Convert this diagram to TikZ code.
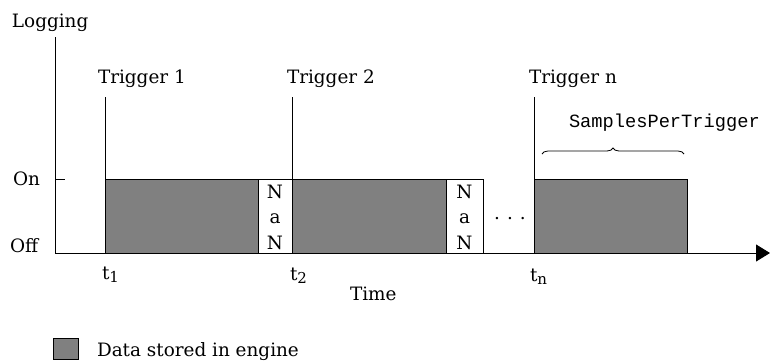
\documentclass[tikz,border=0pt]{standalone}
\usepackage{fontspec}
\setmainfont{DejaVu Serif}
\newfontfamily\spmono{Liberation Mono}
\usetikzlibrary{arrows.meta,decorations.pathreplacing}
\definecolor{datagray}{RGB}{128,128,128}
\newcommand{\tsubs}[1]{t\raisebox{-3pt}{\fontsize{15}{15}\selectfont #1}}
\begin{document}
\begin{tikzpicture}[x=1pt,y=-1pt, line width=1pt,
  lbl/.style={font=\fontsize{18.4}{22}\selectfont, inner sep=0pt, outer sep=0pt},
  mono/.style={font=\spmono\fontsize{18.7}{22}\selectfont, inner sep=0pt, outer sep=0pt},
  databox/.style={draw=black, fill=datagray, inner sep=0pt, outer sep=0pt, anchor=north west},
  nanbox/.style={draw=black, fill=white, inner sep=0pt, outer sep=0pt, anchor=north west}]
\useasboundingbox (0,0) rectangle (771,360);

% axes
\coordinate (ytop) at (55,37);
\coordinate (O) at (55,253);
\coordinate (xend) at (770,253);
\coordinate (on) at (55,179);
\coordinate (ontick) at (65,179);

% data and NaN boxes
\node[databox, minimum width=153pt, minimum height=74pt] (d1) at (105,179) {};
\node[nanbox, minimum width=34pt, minimum height=74pt] (n1) at (258,179) {};
\node[databox, minimum width=154pt, minimum height=74pt] (d2) at (292,179) {};
\node[nanbox, minimum width=37pt, minimum height=74pt] (n2) at (446,179) {};
\node[databox, minimum width=153pt, minimum height=74pt] (d3) at (534,179) {};

\draw (on) -- (ontick);
\draw[-{Triangle[length=14pt,width=17pt]}] (ytop) -- (O) -- (xend);

% trigger lines
\coordinate (tr1) at (105,97);
\coordinate (tr2) at (292,97);
\coordinate (trn) at (534,97);
\draw (tr1) -- (d1.south west);
\draw (tr2) -- (d2.south west);
\draw (trn) -- (d3.south west);

% NaN texts
\node[lbl, anchor=base] (n1a) at (275,198) {N};
\node[lbl, anchor=base] (n1b) at (275,223) {a};
\node[lbl, anchor=base] (n1c) at (275,249) {N};
\node[lbl, anchor=base] (n2a) at (464.5,198) {N};
\node[lbl, anchor=base] (n2b) at (464.5,223) {a};
\node[lbl, anchor=base] (n2c) at (464.5,249) {N};

% dots
\node[lbl, anchor=base] (dots) at (510,219) {.\hspace{7pt}.\hspace{7pt}.};

% brace
\coordinate (bl) at (542,154);
\coordinate (br) at (684,154);
\draw[line width=0.8pt, decorate, decoration={brace, amplitude=6pt}] (bl) -- (br);
\node[mono, anchor=base west] (spt) at (569,127) {SamplesPerTrigger};

% labels
\node[lbl, anchor=base west] (logging) at (12,27) {Logging};
\node[lbl, anchor=base west] (onl) at (13,185) {On};
\node[lbl, anchor=base west] (offl) at (10,252) {Off};
\node[lbl, anchor=base west] (T1) at (98,83) {Trigger 1};
\node[lbl, anchor=base west] (T2) at (287,83) {Trigger 2};
\node[lbl, anchor=base west] (Tn) at (529,83) {Trigger n};
\node[lbl, anchor=base west] (t1) at (102,279) {\tsubs{1}};
\node[lbl, anchor=base west] (t2) at (290,280) {\tsubs{2}};
\node[lbl, anchor=base west] (tn) at (530,281) {\tsubs{n}};
\node[lbl, anchor=base west] (time) at (350,300) {Time};

% legend
\node[databox, minimum width=25pt, minimum height=21pt] (leg) at (53,338) {};
\node[lbl, anchor=base west] (legtxt) at (97,356) {Data stored in engine};
\end{tikzpicture}
\end{document}
